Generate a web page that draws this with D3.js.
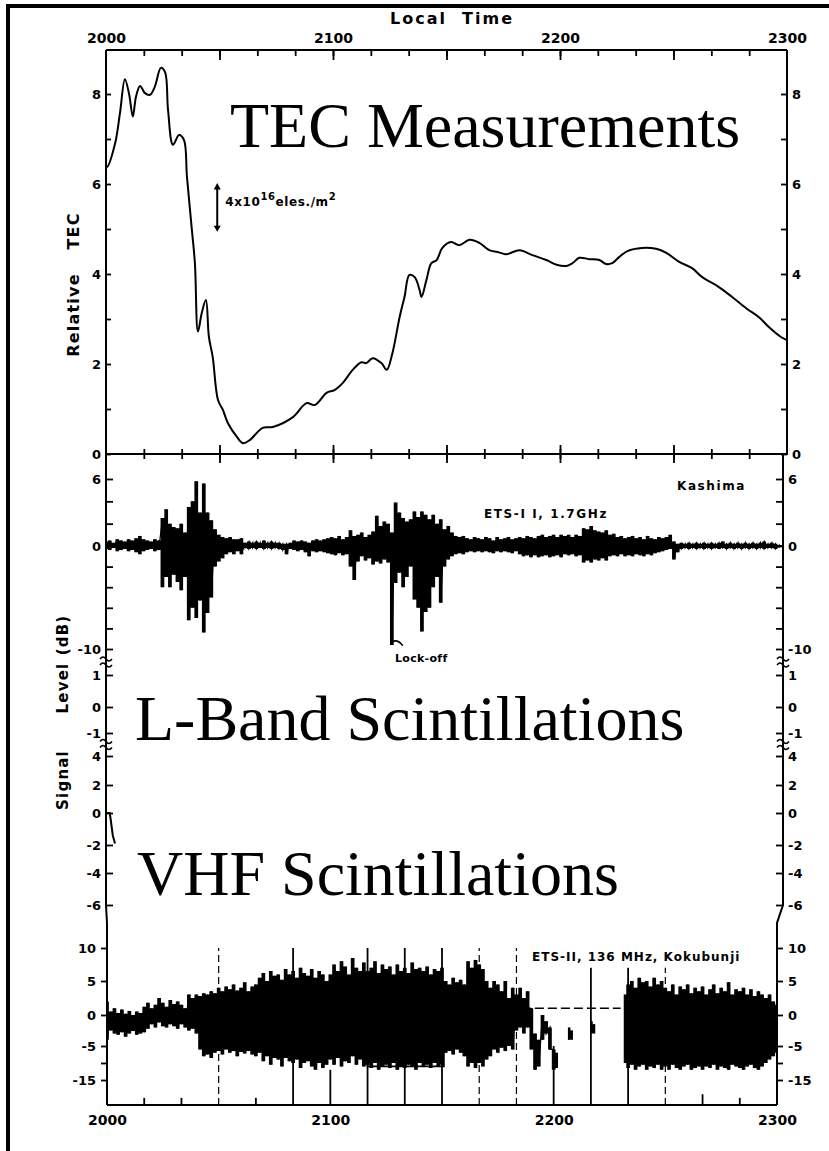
<!DOCTYPE html>
<html>
<head>
<meta charset="utf-8">
<script src="https://cdn.jsdelivr.net/npm/d3@7"></script>
<style>
  body { margin: 0; background: #fff; }
  svg { display: block; }
</style>
</head>
<body>
<div id="chart"></div>
<script>
// ---- data (time in minutes after 20:00 LT) ----
const timeLabels = ['2000', '2100', '2200', '2300'];
const labelMinutes = [0, 60, 120, 180];

// relative TEC trace
const tecMinutes = [0, 0.3, 2.4, 3.7, 5.0, 6.1, 7.1, 7.9, 9.0, 10.3, 11.6, 12.9, 14.5, 15.6, 16.4, 17.7, 19.3, 20.6, 21.4, 22.7,
  23.5, 24.3, 25.3, 26.4, 27.2, 28.2, 29.6, 30.9, 32.2, 34.6, 36.2, 38, 41.4, 44.1, 49.4, 53.0, 55.2, 58.3, 60.4, 62.6,
  65.2, 67.5, 68.8, 70.5, 72.8, 74.2, 75.7, 77.6, 78.9, 80.2, 81.6, 82.9, 83.4, 84.7, 86.0, 87.4, 88.9, 91.2, 93.4, 96.1,
  98.7, 101.3, 103.5, 105.8, 109.3, 112.7, 116.4, 119.3, 121.7, 123.3, 125.1, 127.7, 130.4, 132.2, 133.8, 135.7, 137.8, 141.7, 145.4, 148.1,
  151.5, 154.9, 157.6, 162.0, 165.5, 169.2, 172.6, 175.2, 178.4, 180];
const tecValues = [6.4, 6.38, 6.9, 7.58, 8.33, 8.0, 7.5, 7.93, 8.18, 8.02, 7.98, 8.16, 8.58, 8.49, 7.64, 6.87, 7.09, 6.98, 6.16, 4.98,
  4.24, 2.72, 3.13, 3.42, 2.6, 2.16, 1.2, 0.98, 0.69, 0.38, 0.24, 0.31, 0.58, 0.6, 0.82, 1.13, 1.09, 1.36, 1.42, 1.58,
  1.87, 2.04, 2.02, 2.13, 2.02, 1.87, 2.24, 3.04, 3.49, 3.98, 3.93, 3.64, 3.49, 3.87, 4.24, 4.31, 4.58, 4.71, 4.64, 4.76,
  4.69, 4.53, 4.49, 4.44, 4.53, 4.42, 4.31, 4.2, 4.18, 4.24, 4.36, 4.33, 4.31, 4.22, 4.24, 4.38, 4.51, 4.58, 4.56, 4.47,
  4.27, 4.13, 3.93, 3.71, 3.49, 3.24, 3.04, 2.82, 2.6, 2.53];

// L-band (1.7 GHz) signal level, upper / lower excursion per minute (dB)
const lbandHi = [
  0.4, 0.5, 0.3, 0.6, 0.5, 0.4, 0.6, 0.5, 0.7, 0.9,
  0.6, 0.5, 0.4, 0.6, 0.5, 2.5, 3.3, 2.0, 1.7, 1.6,
  2.0, 1.2, 3.5, 4.0, 5.8, 3.0, 5.6, 3.0, 2.3, 1.5,
  1.0, 0.8, 0.7, 0.8, 0.6, 0.6, 0.7, 0.3, 0.4, 0.3,
  0.4, 0.3, 0.5, 0.3, 0.4, 0.3, 0.3, 0.2, 0.2, 0.3,
  0.5, 0.4, 0.5, 0.4, 0.3, 0.5, 0.6, 0.5, 0.6, 0.7,
  0.8, 0.7, 0.9, 0.6, 0.8, 1.4, 0.9, 1.0, 1.2, 0.8,
  1.0, 1.3, 2.7, 1.8, 2.2, 2.0, 1.2, 3.9, 3.0, 2.5,
  2.2, 2.4, 3.1, 2.6, 3.1, 2.8, 2.4, 2.8, 2.0, 2.4,
  1.5, 1.8, 1.2, 0.9, 0.8, 0.9, 0.7, 0.6, 0.8, 0.7,
  0.6, 0.8, 0.7, 0.5, 0.8, 0.6, 0.7, 0.8, 0.6, 0.7,
  0.8, 0.7, 0.9, 0.8, 0.7, 0.9, 1.0, 0.8, 0.9, 1.0,
  0.8, 1.0, 0.9, 1.0, 0.8, 1.0, 0.9, 1.6, 1.5, 1.8,
  1.4, 1.3, 1.2, 1.4, 1.0, 1.1, 0.8, 0.9, 0.7, 0.8,
  0.9, 0.7, 0.8, 0.6, 0.9, 0.7, 0.6, 0.8, 0.7, 0.8,
  1.0, 0.4, 0.2, 0.3, 0.2, 0.3, 0.2, 0.3, 0.2, 0.3,
  0.2, 0.3, 0.2, 0.3, 0.4, 0.2, 0.3, 0.2, 0.3, 0.2,
  0.3, 0.2, 0.3, 0.2, 0.3, 0.4, 0.2, 0.3, 0.2, 0.1, 0.1];
const lbandLo = [
  -0.3, -0.4, -0.2, -0.5, -0.4, -0.3, -0.5, -0.4, -0.6, -0.8,
  -0.5, -0.4, -0.3, -0.5, -0.4, -4.0, -3.0, -4.0, -2.8, -3.5,
  -4.3, -3.0, -7.2, -6.0, -7.0, -5.3, -8.4, -6.5, -5.0, -2.0,
  -1.5, -1.2, -0.8, -0.6, -0.8, -0.5, -0.8, -0.2, -0.3, -0.2,
  -0.3, -0.2, -0.3, -0.2, -0.3, -0.2, -0.3, -0.4, -0.8, -0.3,
  -0.4, -0.5, -0.4, -0.6, -1.0, -0.5, -0.6, -0.5, -0.6, -0.7,
  -0.8, -0.9, -0.7, -0.9, -0.8, -2.0, -3.3, -1.5, -1.0, -1.4,
  -1.2, -1.8, -1.5, -1.7, -1.3, -1.6, -9.6, -3.6, -2.6, -4.0,
  -3.0, -2.0, -5.2, -6.0, -8.3, -6.4, -6.0, -4.0, -3.0, -5.5,
  -2.0, -1.3, -1.0, -0.8, -0.7, -0.8, -0.6, -0.5, -0.6, -0.5,
  -0.6, -0.5, -0.6, -0.7, -0.5, -0.6, -0.5, -0.6, -0.7, -0.5,
  -0.8, -1.0, -0.9, -1.1, -0.9, -1.1, -1.0, -0.9, -1.1, -1.0,
  -0.9, -1.1, -0.8, -0.9, -0.8, -1.0, -0.9, -1.6, -1.4, -1.6,
  -1.3, -1.4, -1.2, -1.4, -1.0, -0.9, -1.0, -0.8, -1.0, -0.9,
  -1.0, -0.8, -0.9, -1.0, -0.8, -0.9, -0.7, -0.6, -0.5, -0.4,
  -0.3, -1.3, -0.6, -0.3, -0.2, -0.3, -0.2, -0.3, -0.2, -0.3,
  -0.2, -0.3, -0.2, -0.3, -0.2, -0.3, -0.2, -0.3, -0.2, -0.3,
  -0.2, -0.3, -0.2, -0.3, -0.2, -0.3, -0.2, -0.2, -0.3, -0.1, -0.1];

// VHF (136 MHz) signal level, upper / lower excursion per minute (dB), null = no trace
const vhfHi = [
  2.0, 0.5, 1.0, 0.3, 0.8, 0.2, 0.6, 0.0, 0.5, 0.3,
  1.2, 1.8, 1.0, 1.5, 2.5, 1.8, 1.2, 2.2, 1.6, 2.0,
  1.5, 1.0, 3.0, 2.5, 3.0, 2.8, 3.2, 3.0, 3.5, 3.2,
  4.0, 3.5, 4.2, 3.8, 4.5, 3.6, 4.0, 4.8, 3.5, 4.2,
  4.5, 5.5, 6.2, 5.0, 6.5, 5.8, 6.0, 5.2, 6.8, 6.0,
  6.5, 5.5, 7.0, 6.2, 5.8, 6.8, 5.5, 6.5, 6.0, 5.0,
  6.0, 7.5, 6.5, 8.0, 7.2, 6.0, 8.5, 7.0, 6.5, 7.8,
  6.5, 7.0, 8.0, 6.2, 7.5, 6.8, 7.2, 6.0, 7.5, 6.5,
  7.0, 6.2, 7.8, 6.8, 7.0, 6.5, 7.2, 6.0, 6.8, 6.5,
  7.0, 5.0, 4.5, 5.5, 4.8, 5.2, 4.5, 8.0, 7.0, 8.2,
  7.5, 6.8, 5.0, 4.0, 5.0, 4.5, 3.5, 5.0, 2.5, 4.0,
  3.0, 4.0, 2.5, 3.5, 1.0, -3.0, -4.0, 0.0, -1.0, -2.0,
  -6.0, -7.0, null, null, -2.0, -2.5, null, null, null, null,
  -1.0, -1.5, null, null, null, null, null, null, null, 3.0,
  4.5, 5.0, 4.0, 5.5, 4.8, 5.0, 4.2, 5.5, 4.5, 5.0,
  4.0, 3.5, 4.5, 3.0, 4.2, 3.8, 4.5, 3.2, 4.0, 3.5,
  4.2, 3.0, 3.8, 4.5, 3.2, 4.0, 3.5, 4.8, 3.0, 3.8,
  3.5, 4.0, 3.0, 3.8, 2.8, 3.5, 3.0, 2.5, 3.0, 2.0, 1.5];
const vhfLo = [
  -4.0, -2.5, -3.0, -3.2, -2.8, -3.5, -3.0, -2.6, -3.2, -3.0,
  -2.8, -2.2, -1.5, -2.0, -1.2, -1.8, -2.0, -1.5, -1.8, -2.2,
  -1.5, -2.0, -2.5, -2.2, -3.0, -6.0, -8.0, -7.5, -8.5, -7.0,
  -6.5, -7.5, -6.0, -7.0, -6.5, -8.0, -6.8, -7.2, -6.5, -7.5,
  -8.0, -7.0, -9.5, -8.0, -10.5, -8.5, -9.0, -11.0, -8.5, -9.5,
  -10.0, -9.0, -11.5, -10.0, -9.5, -11.0, -12.0, -10.0, -11.5, -10.5,
  -9.0, -10.5, -8.5, -11.0, -9.5, -10.0, -8.0, -10.5, -9.0, -11.0,
  -10.5, -11.5, -10.0, -12.0, -11.0, -10.5, -11.5, -10.0, -12.0, -11.0,
  -11.5, -10.5, -11.0, -12.0, -10.0, -11.0, -10.5, -11.5, -10.0, -11.0,
  -10.5, -7.0, -6.5, -7.5, -6.0, -7.0, -8.0, -11.0, -10.0, -11.5,
  -10.0, -11.0, -9.0, -8.0, -6.0, -7.0, -5.5, -6.5, -5.0, -6.0,
  -2.5, -2.0, -3.0, -2.0, -6.0, -12.0, -11.0, -4.0, -3.0, -6.0,
  -12.0, -11.5, null, null, -4.0, -4.0, null, null, null, null,
  -3.0, -3.0, null, null, null, null, null, null, null, -10.0,
  -11.5, -10.5, -12.0, -11.0, -10.5, -12.0, -11.0, -11.5, -10.5, -12.0,
  -11.0, -12.0, -10.5, -11.5, -12.0, -11.0, -10.5, -12.0, -11.5, -11.0,
  -12.0, -11.0, -11.5, -10.5, -12.0, -11.0, -11.5, -12.0, -10.5, -11.0,
  -11.5, -12.0, -11.0, -10.5, -11.5, -12.0, -11.0, -10.0, -9.0, -8.0, -7.0];

// 10-minute time marks in the VHF record (top of each mark, dB)
const vhfMarkMinutes = [10, 20, 30, 40, 50, 60, 70, 80, 90, 100, 110, 120, 130, 140, 150, 160, 170];
const vhfMarkTops = [-20, -20, 10, -20, 10, -12, 10, 10, 10, 10, 10, -5, 7, 7, 7, -19, -20];
const vhfDashedMarks = [30, 100, 110, 150];

// short trace at the start of the covered amplitude record
const sub2Minutes = [0, 1, 1.3, 1.8, 2.4];
const sub2Values = [0, 0, -0.5, -1.4, -1.9];

// tick values and labels
const tecTicks = [0, 1, 2, 3, 4, 5, 6, 7, 8];
const tecLabels = [0, 2, 4, 6, 8];
const lbandTicks = [6, 4, 2, 0, -2, -4, -6, -8, -10];
const lbandLabels = [6, 0, -10];
const sub1Ticks = [1, 0, -1];
const sub2Ticks = [4, 2, 0, -2, -4, -6];
const vhfTicks = [10, 5, 0, -5, -10, -15];
const vhfLabels = [10, 5, 0, -5, -15];

// ---- drawing ----
const svg = d3.select('#chart').append('svg')
  .attr('width', 829)
  .attr('height', 1151)
  .style('font-family', '"DejaVu Sans", sans-serif');

const topY = 50;
const xTop = d3.scaleLinear().domain([0, 180]).range([106, 787]);
const xMid = d3.scaleLinear().domain([0, 180]).range([106, 783]);
const xLow = d3.scaleLinear().domain([0, 180]).range([107, 777]);
const yTec = d3.scaleLinear().domain([0, 8]).range([454, 94]);
const yLb = d3.scaleLinear().domain([6, 0, -10]).range([479, 546, 649]);
const ySub1 = d3.scaleLinear().domain([1, 0, -1]).range([675, 707, 733]);
const ySub2 = d3.scaleLinear().domain([4, 2, 0, -2, -4, -6]).range([756, 785, 813, 845, 873, 905]);
const yVhf = d3.scaleLinear().domain([10, 5, 0, -5, -15, -22]).range([948, 981, 1015, 1046, 1080, 1105]);
const baseY = yVhf(-22);

// page frame (scan border)
svg.append('line').attr('x1', 8).attr('x2', 8).attr('y1', 4).attr('y2', 1151)
  .attr('stroke', '#000').attr('stroke-width', 4);
svg.append('line').attr('x1', 6).attr('x2', 829).attr('y1', 6).attr('y2', 6)
  .attr('stroke', '#000').attr('stroke-width', 4);

const frame = svg.append('g').attr('fill', 'none').attr('stroke', '#000').attr('stroke-width', 2);
frame.append('path').attr('d', d3.line()([
  [xTop(0), topY], [xTop(0), ySub2(-6)], [xLow(0), ySub2(-6) + 18], [xLow(0), baseY]]));
frame.append('path').attr('d', d3.line()([
  [xTop(180), topY], [xTop(180), yTec(0)], [xMid(180), yTec(0)], [xMid(180), ySub2(-6)],
  [xLow(180), ySub2(-6) + 18], [xLow(180), baseY]]));
frame.append('line').attr('x1', xTop(0)).attr('x2', xTop(180)).attr('y1', topY).attr('y2', topY);
frame.append('line').attr('x1', xTop(0)).attr('x2', xTop(180)).attr('y1', yTec(0)).attr('y2', yTec(0));
frame.append('line').attr('x1', xLow(0)).attr('x2', xLow(180)).attr('y1', baseY).attr('y2', baseY);

function styleAxis(g, fs) {
  g.select('.domain').remove();
  g.attr('font-family', '"DejaVu Sans", sans-serif').attr('font-size', fs || 14).attr('font-weight', 'bold');
  g.selectAll('line').attr('stroke', '#000').attr('stroke-width', 1.8);
  g.selectAll('text').attr('fill', '#000');
}

const tenMinutes = d3.range(10, 180, 10);
const halfHours = [30, 60, 90, 120, 150];

// time axis along the top
svg.append('g').attr('transform', `translate(0,${topY})`)
  .call(d3.axisBottom(xTop).tickValues(tenMinutes).tickSize(6).tickFormat(''))
  .call(styleAxis);
svg.append('g').attr('transform', `translate(0,${topY})`)
  .call(d3.axisBottom(xTop).tickValues(halfHours).tickSize(10).tickFormat(''))
  .call(styleAxis);
svg.append('g').attr('transform', `translate(0,${topY})`)
  .call(d3.axisTop(xTop).tickValues(labelMinutes).tickSize(0).tickPadding(7)
    .tickFormat((d, i) => timeLabels[i]))
  .call(g => styleAxis(g, 14));

// crossing ticks on the TEC baseline
[d3.axisBottom, d3.axisTop].forEach(ax => {
  svg.append('g').attr('transform', `translate(0,${yTec(0)})`)
    .call(ax(xTop).tickValues(tenMinutes).tickSize(5).tickFormat(''))
    .call(styleAxis);
  svg.append('g').attr('transform', `translate(0,${yTec(0)})`)
    .call(ax(xTop).tickValues(halfHours).tickSize(9).tickFormat(''))
    .call(styleAxis);
});

// time labels along the bottom
svg.append('g').attr('transform', `translate(0,${baseY})`)
  .call(d3.axisBottom(xLow).tickValues(labelMinutes).tickSize(0).tickPadding(10)
    .tickFormat((d, i) => timeLabels[i]))
  .call(g => styleAxis(g, 14));

// value axes
function sideAxis(axisFn, scale, x, ticks, labels, size) {
  svg.append('g').attr('transform', `translate(${x},0)`)
    .call(axisFn(scale).tickValues(ticks).tickSize(size).tickPadding(5)
      .tickFormat(d => labels.includes(d) ? String(d) : ''))
    .call(g => styleAxis(g, 13));
}
sideAxis(d3.axisLeft, yTec, xTop(0), tecTicks, tecLabels, -5);
sideAxis(d3.axisRight, yTec, xTop(180), tecTicks, tecLabels, -6);
sideAxis(d3.axisLeft, yLb, xMid(0), lbandTicks, lbandLabels, -7);
sideAxis(d3.axisRight, yLb, xMid(180), lbandTicks, lbandLabels, -7);
sideAxis(d3.axisLeft, ySub1, xMid(0), sub1Ticks, sub1Ticks, -7);
sideAxis(d3.axisRight, ySub1, xMid(180), sub1Ticks, sub1Ticks, -7);
sideAxis(d3.axisLeft, ySub2, xMid(0), sub2Ticks, sub2Ticks, -7);
sideAxis(d3.axisRight, ySub2, xMid(180), sub2Ticks, sub2Ticks, -7);
sideAxis(d3.axisLeft, yVhf, xLow(0), vhfTicks, vhfLabels, 6);
sideAxis(d3.axisRight, yVhf, xLow(180), vhfTicks, vhfLabels, 6);

// axis break marks
function axisBreak(x, y) {
  svg.append('path')
    .attr('d', `M${x - 6},${y - 3} q3,-4 6,0 t6,0 M${x - 6},${y + 3} q3,-4 6,0 t6,0`)
    .attr('fill', 'none').attr('stroke', '#000').attr('stroke-width', 1.5);
}
[xMid(0), xMid(180)].forEach(x => {
  axisBreak(x, (yLb(-10) + ySub1(1)) / 2);
  axisBreak(x, (ySub1(-1) + ySub2(4)) / 2);
});

// TEC trace
svg.append('path')
  .datum(tecMinutes.map((t, i) => [t, tecValues[i]]))
  .attr('fill', 'none').attr('stroke', '#000').attr('stroke-width', 2)
  .attr('d', d3.line().x(d => xTop(d[0])).y(d => yTec(d[1])).curve(d3.curveCatmullRom.alpha(0.5)));

// scintillation records: stepped envelope plus a stroke running from each
// minute's upper to its lower excursion, which gives the spiky edge
function excursions(hi, lo) {
  const pts = [];
  hi.forEach((h, i) => {
    pts.push([i, h]);
    pts.push([i, lo[i]]);
  });
  return pts;
}
function record(hi, lo, x, y, width) {
  const rows = hi.map((h, i) => ({ t: i, hi: h, lo: lo[i] }));
  svg.append('path')
    .datum(rows)
    .attr('fill', '#000')
    .attr('d', d3.area().defined(d => d.hi !== null)
      .x(d => x(d.t)).y0(d => y(d.lo)).y1(d => y(d.hi)).curve(d3.curveStep));
  svg.append('path')
    .datum(excursions(hi, lo))
    .attr('fill', 'none').attr('stroke', '#000').attr('stroke-width', width)
    .attr('d', d3.line().defined(d => d[1] !== null).x(d => x(d[0])).y(d => y(d[1])));
}
record(lbandHi, lbandLo, xMid, yLb, 1.1);
record(vhfHi, vhfLo, xLow, yVhf, 1.3);

// covered amplitude record start
svg.append('path')
  .datum(sub2Minutes.map((t, i) => [t, sub2Values[i]]))
  .attr('fill', 'none').attr('stroke', '#000').attr('stroke-width', 2)
  .attr('d', d3.line().x(d => xMid(d[0])).y(d => ySub2(d[1])));

// VHF time marks
svg.append('g').selectAll('line')
  .data(vhfMarkMinutes.map((m, i) => ({ m, top: vhfMarkTops[i] })))
  .join('line')
  .attr('x1', d => xLow(d.m)).attr('x2', d => xLow(d.m))
  .attr('y1', baseY).attr('y2', d => yVhf(d.top))
  .attr('stroke', '#000')
  .attr('stroke-width', d => vhfDashedMarks.includes(d.m) ? 1.2 : 1.8)
  .attr('stroke-dasharray', d => vhfDashedMarks.includes(d.m) ? '7,4' : null);

// reference line and bracket in the VHF record
svg.append('line')
  .attr('x1', xLow(94)).attr('x2', xLow(138)).attr('y1', yVhf(1)).attr('y2', yVhf(1))
  .attr('stroke', '#000').attr('stroke-width', 1.5).attr('stroke-dasharray', '9,4');
svg.append('path')
  .attr('d', d3.line()([[xLow(70), yVhf(-7)], [xLow(70), yVhf(-11)], [xLow(90.5), yVhf(-11)], [xLow(90.5), yVhf(-5)]]))
  .attr('fill', 'none').attr('stroke', '#000').attr('stroke-width', 1.8);

// scale arrow for TEC
const arrowX = xTop(29.4);
svg.append('line').attr('x1', arrowX).attr('x2', arrowX).attr('y1', yTec(5.9)).attr('y2', yTec(5.05))
  .attr('stroke', '#000').attr('stroke-width', 2);
svg.append('path')
  .attr('d', `M${arrowX - 3.5},${yTec(5.88)} L${arrowX},${yTec(6.02)} L${arrowX + 3.5},${yTec(5.88)} Z
              M${arrowX - 3.5},${yTec(5.07)} L${arrowX},${yTec(4.94)} L${arrowX + 3.5},${yTec(5.07)} Z`)
  .attr('fill', '#000');

const ann = svg.append('text').attr('x', arrowX + 8).attr('y', 206)
  .attr('font-size', 12).attr('font-weight', 'bold').attr('letter-spacing', 0.6);
ann.append('tspan').text('4x10');
ann.append('tspan').attr('dy', -6).attr('font-size', 10).text('16');
ann.append('tspan').attr('dy', 6).text('eles./m');
ann.append('tspan').attr('dy', -6).attr('font-size', 10).text('2');

// Lock-off marker
svg.append('path')
  .attr('d', `M${xMid(76)},${yLb(-9.3)} q6,-3 11,4`)
  .attr('fill', 'none').attr('stroke', '#000').attr('stroke-width', 1.5);

// small labels
const small = [
  { text: 'Local  Time', x: 390, y: 24, size: 16, ls: 2 },
  { text: 'Kashima', x: 677, y: 490, size: 12, ls: 1.6 },
  { text: 'ETS-I I, 1.7GHz', x: 484, y: 518, size: 12, ls: 1.6 },
  { text: 'Lock-off', x: 395, y: 662, size: 11, ls: 0.3 },
  { text: 'ETS-II, 136 MHz, Kokubunji', x: 532, y: 961, size: 12, ls: 1.0 }
];
svg.append('g').selectAll('text')
  .data(small)
  .join('text')
  .attr('x', d => d.x).attr('y', d => d.y)
  .attr('font-size', d => d.size).attr('font-weight', 'bold')
  .attr('letter-spacing', d => d.ls)
  .style('white-space', 'pre')
  .text(d => d.text);

// rotated axis titles, one word at a time
const titles = [
  { text: 'TEC', x: 73, y: 231, size: 16 },
  { text: 'Relative', x: 73, y: 315, size: 16 },
  { text: '(dB)', x: 63, y: 635, size: 15 },
  { text: 'Level', x: 63, y: 688, size: 15 },
  { text: 'Signal', x: 63, y: 780, size: 15 }
];
svg.append('g').selectAll('text')
  .data(titles)
  .join('text')
  .attr('transform', d => `translate(${d.x},${d.y}) rotate(-90)`)
  .attr('text-anchor', 'middle').attr('dy', '0.35em')
  .attr('font-size', d => d.size).attr('font-weight', 'bold').attr('letter-spacing', 1.2)
  .text(d => d.text);

// large panel captions
const captions = [
  { text: 'TEC Measurements', x: 230, y: 147 },
  { text: 'L-Band Scintillations', x: 135, y: 740 },
  { text: 'VHF Scintillations', x: 137, y: 895 }
];
svg.append('g').selectAll('text')
  .data(captions)
  .join('text')
  .attr('x', d => d.x).attr('y', d => d.y)
  .attr('font-family', '"Liberation Serif", "Times New Roman", serif')
  .attr('font-size', 64)
  .text(d => d.text);
</script>
</body>
</html>
